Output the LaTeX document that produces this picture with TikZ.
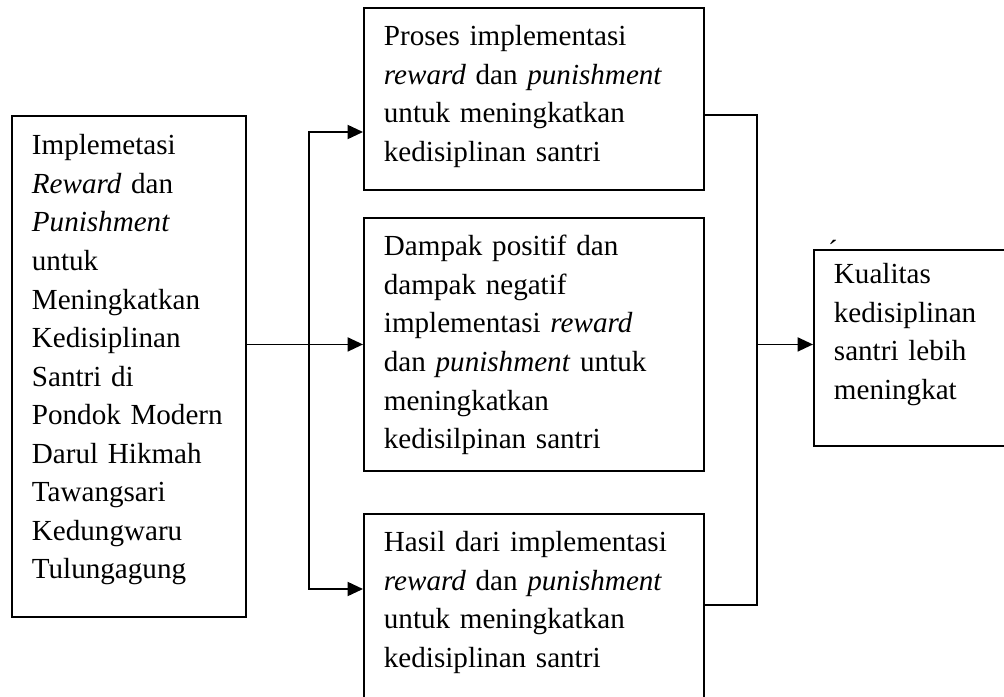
\documentclass[tikz,border=0pt]{standalone}
\usepackage{fontspec}
\setmainfont{Liberation Serif}
\usetikzlibrary{calc,arrows.meta}

\begin{document}
\begin{tikzpicture}[x=0.025cm, y=-0.025cm,
	kotak/.style={draw=black, line width=1.3pt, anchor=north west, align=left, inner xsep=0.5cm, inner ysep=0pt, font=\fontsize{20.7}{27.4}\selectfont},
	panah/.style={-{Triangle[length=11pt, width=10pt]}, line width=1.3pt}]

\useasboundingbox (0,0) rectangle (1004,696);

% Input box
\node[kotak, text width=4.85cm, text height=0.975cm, text depth=11.55cm] (implementasi) at (11,115) {Implemetasi\\ \textit{Reward} dan\\ \textit{Punishment}\\ untuk\\ Meningkatkan\\ Kedisiplinan\\ Santri di\\ Pondok Modern\\ Darul Hikmah\\ Tawangsari\\ Kedungwaru\\ Tulungagung};

% Middle boxes
\node[kotak, text width=7.5cm, text height=0.95cm, text depth=3.6cm] (proses) at (363,7) {Proses implementasi\\ \textit{reward} dan \textit{punishment}\\ untuk meningkatkan\\ kedisiplinan santri};
\node[kotak, text width=7.5cm, text height=0.95cm, text depth=5.375cm] (dampak) at (363,217) {Dampak positif dan\\ dampak negatif\\ implementasi \textit{reward}\\ dan \textit{punishment} untuk\\ meningkatkan\\ kedisilpinan santri};
\node[kotak, text width=7.5cm, text height=0.95cm, text depth=4.05cm] (hasil) at (363,513) {Hasil dari implementasi\\ \textit{reward} dan \textit{punishment}\\ untuk meningkatkan\\ kedisiplinan santri};

% Output box
\node[kotak, text width=4.5cm, text height=0.85cm, text depth=4.05cm] (kualitas) at (813,249) {Kualitas\\ kedisiplinan\\ santri lebih\\ meningkat};
\node[font=\fontsize{20.7}{27.4}\selectfont, inner sep=0pt, text depth=0pt, anchor=base] (aksen) at (833,260) {´};

% Connections left
\coordinate (cabang) at ($(implementasi.east |- dampak.west)+(62,0)$);
\draw[panah] (implementasi.east |- dampak.west) -- (dampak.west);
\draw[panah] (cabang) |- ($(proses.north west)+(0,125)$);
\draw[panah] (cabang) |- ($(hasil.north west)+(0,76)$);

% Connections right
\coordinate (gabung) at ($(dampak.east)+(52,0)$);
\draw[line width=1.3pt] ($(proses.north east)+(0,108)$) -| (gabung);
\draw[line width=1.3pt] ($(hasil.north east)+(0,92)$) -| (gabung);
\draw[panah] (gabung) -- (kualitas.west |- gabung);
\end{tikzpicture}
\end{document}
